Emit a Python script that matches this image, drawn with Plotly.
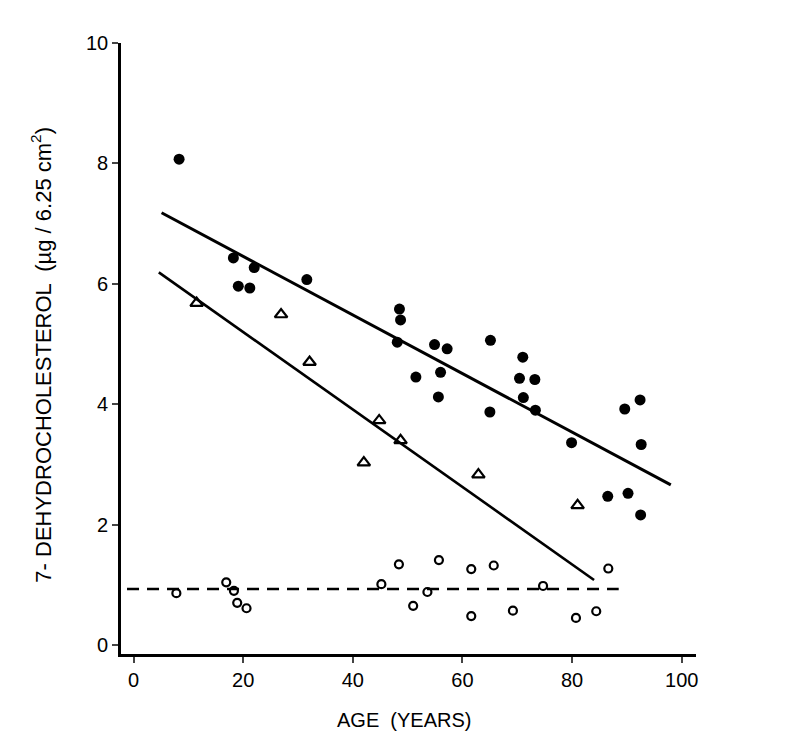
import plotly.graph_objects as go

# filled circles
age_filled = [8.3, 18.2, 22.0, 19.1, 21.2, 31.6, 48.5, 48.7, 48.1, 51.5, 54.9, 57.2, 56.0, 55.6,
              65.1, 65.0, 71.0, 70.4, 73.2, 71.1, 73.3, 79.9, 89.6, 92.4, 92.6, 86.5, 90.2, 92.5]
val_filled = [8.07, 6.43, 6.27, 5.96, 5.93, 6.07, 5.58, 5.40, 5.03, 4.45, 4.99, 4.92, 4.53, 4.12,
              5.06, 3.87, 4.78, 4.43, 4.41, 4.11, 3.90, 3.36, 3.92, 4.07, 3.33, 2.47, 2.52, 2.16]

# open triangles
age_tri = [11.5, 26.9, 32.1, 42.0, 44.8, 48.7, 62.9, 81.0]
val_tri = [5.68, 5.49, 4.70, 3.03, 3.73, 3.40, 2.83, 2.32]

# open circles
age_open = [7.8, 16.9, 18.3, 18.9, 20.6, 45.2, 48.4, 51.0, 53.6, 55.7, 61.6, 61.6,
            65.7, 69.2, 74.7, 80.7, 84.4, 86.6]
val_open = [0.86, 1.04, 0.90, 0.70, 0.61, 1.01, 1.34, 0.65, 0.88, 1.41, 1.26, 0.48,
            1.32, 0.57, 0.98, 0.45, 0.56, 1.27]

# fitted lines (end points)
upper_x = [5.1, 98.0]
upper_y = [7.18, 2.66]
lower_x = [4.6, 84.0]
lower_y = [6.19, 1.08]
dash_x = [-1.2, 88.5]
dash_y = [0.93, 0.93]

x_ticks = [0, 20, 40, 60, 80, 100]
y_ticks = [0, 2, 4, 6, 8, 10]

FONT = "Liberation Sans"

fig = go.Figure()

fig.add_trace(go.Scatter(x=upper_x, y=upper_y, mode="lines",
                         line=dict(color="black", width=3), showlegend=False))
fig.add_trace(go.Scatter(x=lower_x, y=lower_y, mode="lines",
                         line=dict(color="black", width=2.6), showlegend=False))
fig.add_trace(go.Scatter(x=dash_x, y=dash_y, mode="lines",
                         line=dict(color="black", width=2.4, dash="12px,8px"), showlegend=False))

fig.add_trace(go.Scatter(x=age_filled, y=val_filled, mode="markers",
                         marker=dict(symbol="circle", size=11, color="black"),
                         showlegend=False, cliponaxis=False))
fig.add_trace(go.Scatter(x=age_tri, y=val_tri, mode="markers",
                         marker=dict(symbol="triangle-up-open", size=11, color="black",
                                     line=dict(width=2.2, color="black")),
                         showlegend=False, cliponaxis=False))
fig.add_trace(go.Scatter(x=age_open, y=val_open, mode="markers",
                         marker=dict(symbol="circle-open", size=8, color="black",
                                     line=dict(width=2.2, color="black")),
                         showlegend=False, cliponaxis=False))

# page body adds a small offset, so margins are shifted up/left to compensate
fig.update_layout(
    width=785, height=752,
    margin=dict(l=113, r=97, t=35, b=106),
    paper_bgcolor="white", plot_bgcolor="white",
    font=dict(family=FONT, color="black"),
)

fig.update_xaxes(
    range=[-2.3, 102.6], tickvals=x_ticks, ticks="outside", ticklen=6, tickwidth=2,
    showline=True, linewidth=2.6, linecolor="black", showgrid=False, zeroline=False,
    tickfont=dict(size=20, family=FONT),
)
fig.update_yaxes(
    range=[-0.15, 10.0], tickvals=y_ticks, ticks="outside", ticklen=6, tickwidth=2,
    showline=True, linewidth=2.6, linecolor="black", showgrid=False, zeroline=False,
    tickfont=dict(size=20, family=FONT),
)

fig.add_annotation(text="AGE  (YEARS)", xref="paper", yref="paper", x=0.492, y=-0.108,
                   xanchor="center", yanchor="middle", showarrow=False,
                   font=dict(size=20, family=FONT))
fig.add_annotation(text="7- DEHYDROCHOLESTEROL  (\u00b5g / 6.25 cm<sup>2</sup>)",
                   xref="paper", yref="paper", x=-0.139, y=0.49,
                   xanchor="center", yanchor="middle", textangle=-90, showarrow=False,
                   font=dict(size=22, family=FONT))

fig.write_html("out.html")
